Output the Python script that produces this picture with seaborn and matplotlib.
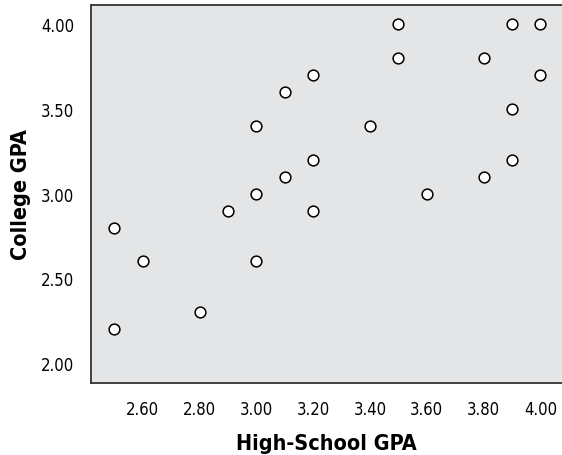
import matplotlib
matplotlib.use('Agg')
import matplotlib.pyplot as plt
import seaborn as sns
import pandas as pd

# high-school GPA vs college GPA
hs_gpa = [2.5, 2.5, 2.6, 2.8, 2.9, 3.0, 3.0, 3.0, 3.1, 3.1, 3.2, 3.2,
          3.2, 3.4, 3.5, 3.5, 3.6, 3.8, 3.8, 3.9, 3.9, 3.9, 4.0, 4.0]
col_gpa = [2.8, 2.2, 2.6, 2.3, 2.9, 3.4, 3.0, 2.6, 3.6, 3.1, 3.7, 3.2,
           2.9, 3.4, 4.0, 3.8, 3.0, 3.8, 3.1, 4.0, 3.5, 3.2, 4.0, 3.7]
x_ticks = [2.6, 2.8, 3.0, 3.2, 3.4, 3.6, 3.8, 4.0]
y_ticks = [2.0, 2.5, 3.0, 3.5, 4.0]

df = pd.DataFrame({'hs': hs_gpa, 'college': col_gpa})

sns.set_style('white')
plt.rcParams['font.family'] = ['DejaVu Sans']
plt.rcParams['font.stretch'] = 'condensed'
plt.rcParams['text.color'] = 'black'
plt.rcParams['axes.labelcolor'] = 'black'

fig = plt.figure(figsize=(5.62, 4.56), dpi=100)
ax = fig.add_axes([0.162, 0.158, 0.838, 0.829])
ax.set_facecolor('#e4e5e7')

sns.scatterplot(data=df, x='hs', y='college', ax=ax, s=60,
                facecolor='white', edgecolor='black', linewidth=1.1, zorder=3)

ax.set_xlim(2.418, 4.076)
ax.set_ylim(1.884, 4.112)
ax.set_xticks(x_ticks)
ax.set_xticklabels(['%.2f' % v for v in x_ticks])
ax.set_yticks(y_ticks)
ax.set_yticklabels(['%.2f' % v for v in y_ticks])
ax.tick_params(axis='both', direction='out', length=8, width=1.3,
               color='#444444', labelsize=12, pad=4, labelcolor='black')

ax.spines['right'].set_visible(False)
for side in ['left', 'bottom', 'top']:
    ax.spines[side].set_color('#333333')
    ax.spines[side].set_linewidth(1.3)

ax.set_xlabel('High-School GPA', fontsize=15.5, fontweight='bold', labelpad=11)
ax.set_ylabel('College GPA', fontsize=15.5, fontweight='bold', labelpad=7)

fig.savefig('out.png', dpi=100)
